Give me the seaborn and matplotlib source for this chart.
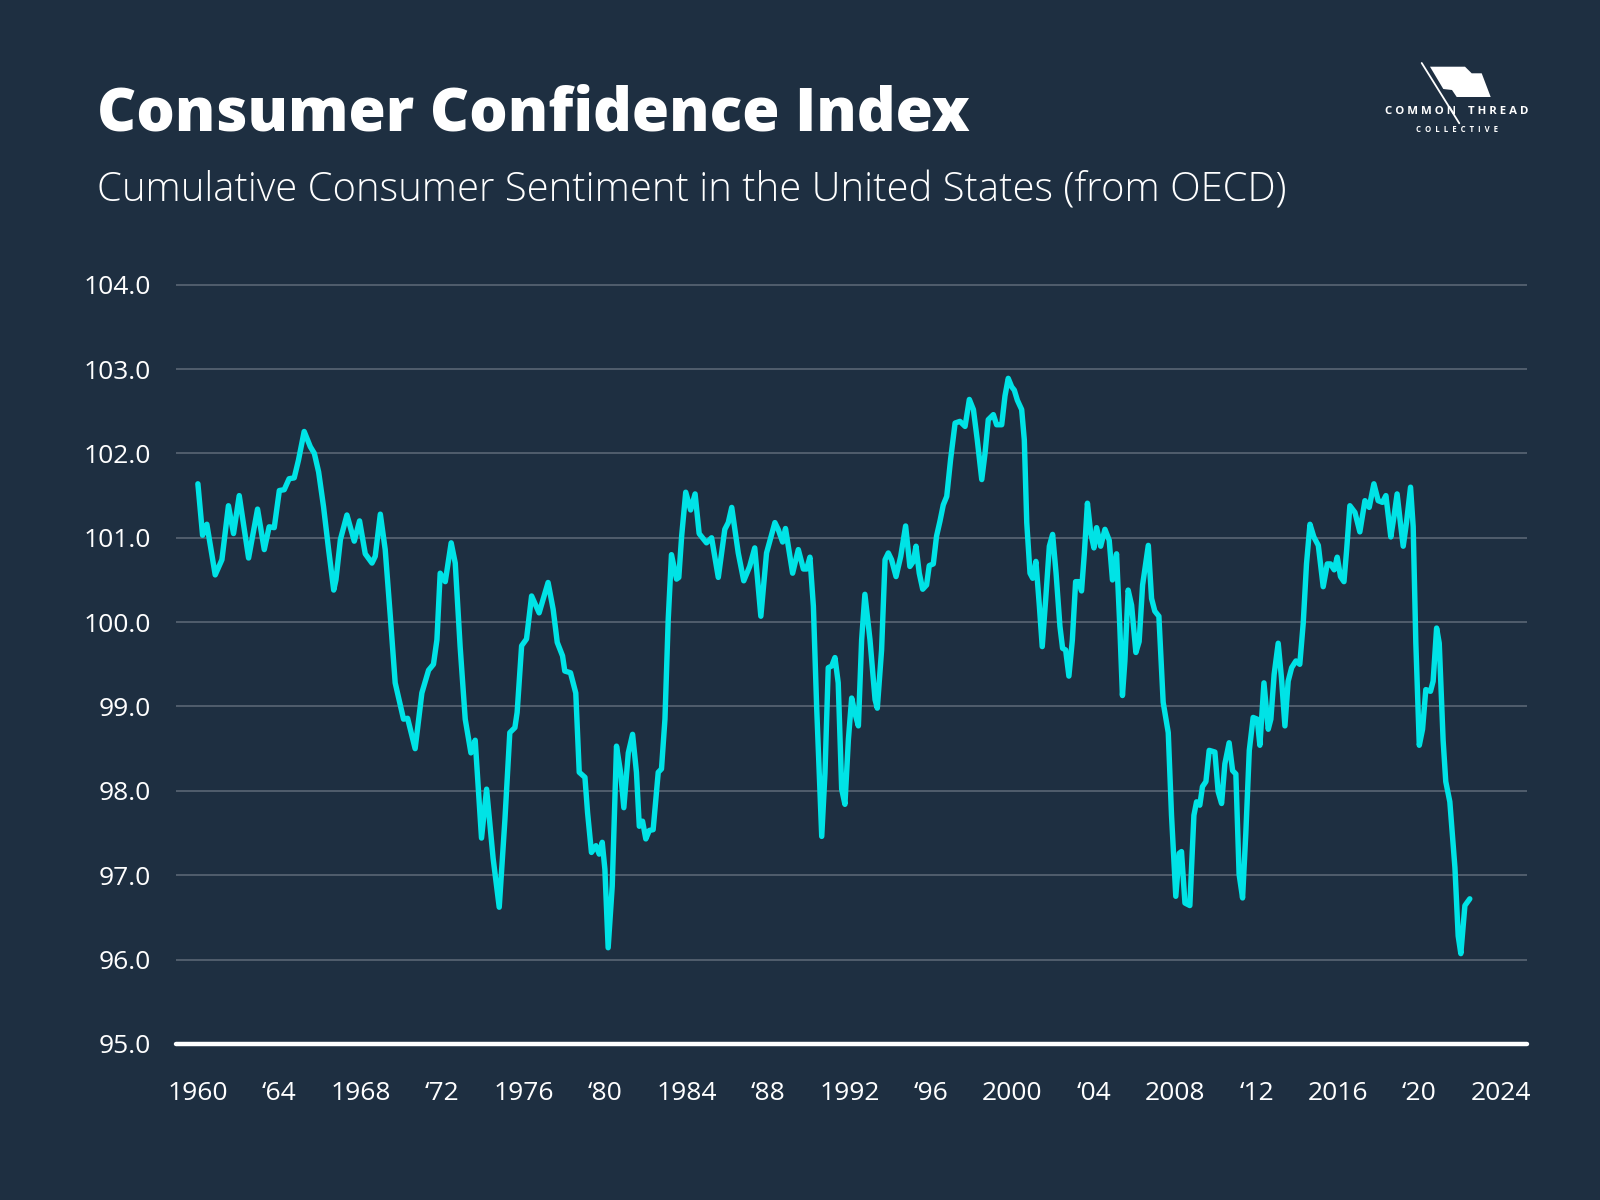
import matplotlib
matplotlib.use("Agg")
import matplotlib.pyplot as plt
import seaborn as sns
import pandas as pd
from matplotlib.patches import Polygon
from matplotlib.lines import Line2D

# ---------------- data ----------------
years = [
    1960.0, 1960.23, 1960.44, 1960.85, 1961.18, 1961.5, 1961.75, 1962.03, 1962.49, 1962.93,
    1963.26, 1963.5, 1963.75, 1964.0, 1964.24, 1964.48, 1964.73, 1964.94, 1965.22, 1965.52,
    1965.72, 1965.93, 1966.17, 1966.42, 1966.67, 1966.78, 1967.0, 1967.32, 1967.68, 1967.94,
    1968.22, 1968.55, 1968.71, 1968.96, 1969.2, 1969.45, 1969.69, 1970.1, 1970.3, 1970.67,
    1971.0, 1971.33, 1971.57, 1971.74, 1971.9, 1972.15, 1972.44, 1972.64, 1972.88, 1973.13,
    1973.41, 1973.62, 1973.93, 1974.18, 1974.5, 1974.8, 1975.08, 1975.32, 1975.57, 1975.68,
    1975.9, 1976.14, 1976.39, 1976.76, 1977.2, 1977.45, 1977.65, 1977.91, 1978.02, 1978.3,
    1978.56, 1978.73, 1979.01, 1979.14, 1979.33, 1979.55, 1979.71, 1979.86, 1979.99, 1980.15,
    1980.35, 1980.56, 1980.76, 1980.92, 1981.14, 1981.35, 1981.54, 1981.68, 1981.84, 1982.0,
    1982.17, 1982.36, 1982.61, 1982.77, 1982.94, 1983.1, 1983.26, 1983.51, 1983.62, 1983.76,
    1983.96, 1984.2, 1984.42, 1984.62, 1984.98, 1985.23, 1985.56, 1985.88, 1986.05, 1986.22,
    1986.54, 1986.81, 1987.1, 1987.35, 1987.65, 1987.93, 1988.34, 1988.5, 1988.72, 1988.86,
    1989.21, 1989.49, 1989.74, 1989.9, 1990.06, 1990.23, 1990.39, 1990.64, 1990.8, 1990.96,
    1991.13, 1991.29, 1991.45, 1991.62, 1991.78, 1991.95, 1992.11, 1992.27, 1992.44, 1992.6,
    1992.76, 1993.01, 1993.26, 1993.37, 1993.58, 1993.75, 1993.91, 1994.07, 1994.29, 1994.52,
    1994.76, 1994.97, 1995.14, 1995.27, 1995.43, 1995.6, 1995.79, 1995.92, 1996.12, 1996.28,
    1996.45, 1996.61, 1996.78, 1996.97, 1997.19, 1997.43, 1997.68, 1997.89, 1998.09, 1998.28,
    1998.5, 1998.66, 1998.82, 1999.07, 1999.23, 1999.48, 1999.64, 1999.8, 1999.97, 2000.1,
    2000.25, 2000.46, 2000.59, 2000.71, 2000.87, 2001.0, 2001.16, 2001.33, 2001.47, 2001.64,
    2001.82, 2001.98, 2002.15, 2002.34, 2002.47, 2002.62, 2002.78, 2002.95, 2003.11, 2003.27,
    2003.4, 2003.54, 2003.69, 2003.85, 2004.01, 2004.14, 2004.34, 2004.55, 2004.76, 2004.92,
    2005.12, 2005.28, 2005.41, 2005.53, 2005.69, 2005.86, 2006.07, 2006.23, 2006.4, 2006.68,
    2006.84, 2007.0, 2007.2, 2007.41, 2007.66, 2007.82, 2008.03, 2008.2, 2008.31, 2008.48,
    2008.72, 2008.92, 2009.05, 2009.21, 2009.34, 2009.51, 2009.67, 2009.95, 2010.11, 2010.28,
    2010.44, 2010.65, 2010.82, 2010.98, 2011.14, 2011.31, 2011.47, 2011.64, 2011.83, 2012.03,
    2012.16, 2012.36, 2012.57, 2012.7, 2012.86, 2013.06, 2013.22, 2013.39, 2013.55, 2013.72,
    2013.93, 2014.12, 2014.29, 2014.45, 2014.62, 2014.81, 2015.03, 2015.27, 2015.47, 2015.63,
    2015.81, 2015.96, 2016.12, 2016.29, 2016.42, 2016.58, 2016.83, 2017.07, 2017.32, 2017.53,
    2017.76, 2017.97, 2018.18, 2018.35, 2018.59, 2018.74, 2018.9, 2019.07, 2019.2, 2019.36,
    2019.56, 2019.69, 2019.82, 2019.99, 2020.15, 2020.31, 2020.54, 2020.67, 2020.84, 2020.97,
    2021.16, 2021.29, 2021.49, 2021.74, 2021.9, 2022.03, 2022.23, 2022.47,
]
values = [
    101.64, 101.03, 101.16, 100.56, 100.74, 101.38, 101.05, 101.50, 100.76, 101.34,
    100.86, 101.13, 101.12, 101.56, 101.57, 101.70, 101.71, 101.92, 102.26, 102.08,
    102.00, 101.78, 101.37, 100.86, 100.38, 100.50, 100.98, 101.27, 100.96, 101.20,
    100.81, 100.70, 100.78, 101.28, 100.86, 100.07, 99.28, 98.85, 98.86, 98.50,
    99.16, 99.43, 99.50, 99.79, 100.58, 100.48, 100.94, 100.70, 99.71, 98.85,
    98.45, 98.60, 97.44, 98.02, 97.20, 96.62, 97.66, 98.69, 98.75, 98.93,
    99.72, 99.80, 100.31, 100.11, 100.47, 100.15, 99.76, 99.60, 99.42, 99.40,
    99.16, 98.22, 98.16, 97.74, 97.27, 97.35, 97.25, 97.39, 97.07, 96.14,
    96.87, 98.53, 98.22, 97.80, 98.45, 98.67, 98.22, 97.58, 97.64, 97.43,
    97.53, 97.54, 98.22, 98.26, 98.85, 100.03, 100.80, 100.51, 100.53, 101.02,
    101.54, 101.33, 101.52, 101.05, 100.94, 101.00, 100.53, 101.10, 101.18, 101.36,
    100.82, 100.49, 100.66, 100.88, 100.07, 100.82, 101.18, 101.10, 100.95, 101.11,
    100.58, 100.86, 100.63, 100.63, 100.77, 100.19, 99.00, 97.46, 98.21, 99.46,
    99.48, 99.58, 99.28, 98.02, 97.84, 98.61, 99.10, 98.92, 98.77, 99.79,
    100.33, 99.79, 99.08, 98.98, 99.67, 100.74, 100.82, 100.74, 100.54, 100.78,
    101.14, 100.66, 100.72, 100.90, 100.58, 100.39, 100.44, 100.67, 100.69, 101.02,
    101.20, 101.39, 101.49, 101.93, 102.36, 102.38, 102.32, 102.64, 102.52, 102.16,
    101.69, 102.00, 102.40, 102.46, 102.34, 102.34, 102.68, 102.89, 102.79, 102.75,
    102.63, 102.52, 102.16, 101.18, 100.58, 100.52, 100.72, 100.19, 99.71, 100.27,
    100.90, 101.04, 100.58, 99.95, 99.69, 99.67, 99.36, 99.79, 100.48, 100.48,
    100.37, 100.82, 101.41, 101.06, 100.88, 101.12, 100.90, 101.10, 100.97, 100.50,
    100.81, 99.95, 99.13, 99.54, 100.38, 100.20, 99.64, 99.77, 100.44, 100.91,
    100.28, 100.13, 100.07, 99.05, 98.69, 97.71, 96.75, 97.26, 97.28, 96.67,
    96.64, 97.71, 97.87, 97.83, 98.05, 98.11, 98.48, 98.46, 97.99, 97.85,
    98.32, 98.57, 98.24, 98.20, 97.01, 96.73, 97.50, 98.48, 98.87, 98.85,
    98.54, 99.28, 98.73, 98.85, 99.38, 99.75, 99.34, 98.77, 99.30, 99.46,
    99.54, 99.50, 99.99, 100.69, 101.16, 101.01, 100.91, 100.42, 100.69, 100.69,
    100.62, 100.77, 100.54, 100.48, 100.85, 101.38, 101.30, 101.07, 101.44, 101.36,
    101.64, 101.44, 101.42, 101.50, 101.01, 101.24, 101.52, 101.16, 100.90, 101.18,
    101.60, 101.13, 99.75, 98.54, 98.73, 99.20, 99.18, 99.30, 99.93, 99.75,
    98.60, 98.11, 97.87, 97.09, 96.28, 96.07, 96.64, 96.72,
]
x_tick_years = [1960, 1964, 1968, 1972, 1976, 1980, 1984, 1988, 1992, 1996,
                2000, 2004, 2008, 2012, 2016, 2020, 2024]
x_tick_labels = ["1960", "\u201864", "1968", "\u201872", "1976", "\u201880", "1984", "\u201888",
                 "1992", "\u201896", "2000", "\u201804", "2008", "\u201812", "2016", "\u201820", "2024"]
y_ticks = [95.0, 96.0, 97.0, 98.0, 99.0, 100.0, 101.0, 102.0, 103.0, 104.0]

title = "Consumer Confidence Index"
subtitle = "Cumulative Consumer Sentiment in the United States (from OECD)"

# ---------------- style ----------------
BG = "#1E2F41"
LINE = "#00E3E6"
GRID = "#5F6B78"
FONT = "Open Sans"

sns.set_theme(style="dark")
plt.rcParams["font.family"] = [FONT, "DejaVu Sans"]

W, H = 1600, 1200
fig = plt.figure(figsize=(16, 12), dpi=100, facecolor=BG)

def fx(px):
    return px / W

def fy(py):
    return 1 - py / H

ax_left, ax_right = 175.5, 1527.0
ax_top, ax_bottom = 280.5, 1043.9
ax = fig.add_axes([fx(ax_left), fy(ax_bottom), (ax_right - ax_left) / W, (ax_bottom - ax_top) / H])
ax.set_facecolor(BG)

df = pd.DataFrame({"year": years, "value": values})
sns.lineplot(data=df, x="year", y="value", ax=ax, color=LINE, linewidth=3.9,
             sort=False, estimator=None, zorder=3)
for ln in ax.lines:
    ln.set_solid_joinstyle("round")
    ln.set_solid_capstyle("round")

ax.set_xlim(1958.9, 2025.28)
ax.set_ylim(95, 104.05)
ax.set_xticks(x_tick_years)
ax.set_xticklabels(x_tick_labels)
ax.set_yticks(y_ticks)
ax.set_yticklabels([f"{v:.1f}" for v in y_ticks])
ax.set_xlabel("")
ax.set_ylabel("")
ax.grid(False)
for v in y_ticks[1:]:
    ax.axhline(v, color=GRID, lw=1.1, zorder=1)
ax.axhline(95, color="white", lw=3.2, zorder=4, clip_on=False)
for s in ax.spines.values():
    s.set_visible(False)
ax.tick_params(axis="both", length=0, colors="white", labelsize=19)
ax.tick_params(axis="y", pad=18)
ax.tick_params(axis="x", pad=26.5)
for lab in ax.get_xticklabels() + ax.get_yticklabels():
    lab.set_fontfamily([FONT, "DejaVu Sans"])
    lab.set_fontweight("normal")

# ---------------- titles ----------------
fig.text(fx(97), fy(130.6), title, color="white", fontsize=43.6, fontweight="heavy",
         family=[FONT, "DejaVu Sans"], ha="left", va="baseline")
fig.text(fx(97), fy(201), subtitle, color="white", fontsize=28.85, fontweight="light",
         family=[FONT, "DejaVu Sans"], ha="left", va="baseline")

# ---------------- logo ----------------
flag_px = [(1430, 66.7), (1465, 66.7), (1471.7, 73.3), (1481.7, 73.3), (1490.7, 97),
           (1456.7, 97), (1452, 90), (1443.3, 89)]
fig.patches.append(Polygon([(fx(x), fy(y)) for x, y in flag_px], closed=True,
                           transform=fig.transFigure, facecolor="white", edgecolor="none"))
fig.add_artist(Line2D([fx(1421.7), fx(1459.3)], [fy(63), fy(123.3)], color="white", lw=1.3,
                      transform=fig.transFigure))
fig.text(fx(1456.5), fy(111.5), "C O M M O N    T H R E A D", color="white", fontsize=8.2,
         fontweight="bold", ha="center", va="center", family=[FONT, "DejaVu Sans"])
fig.text(fx(1457), fy(130), "C  O  L  L  E  C  T  I  V  E", color="white", fontsize=5.6,
         fontweight="bold", ha="center", va="center", family=[FONT, "DejaVu Sans"])

fig.savefig("out.png", dpi=100, facecolor=BG)
